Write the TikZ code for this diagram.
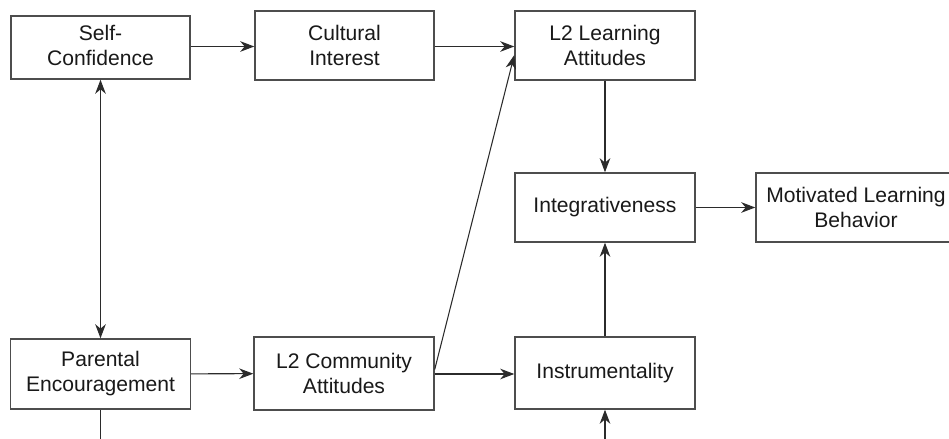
\documentclass[tikz,border=0pt]{standalone}
\usepackage{xcolor}
\usepackage{fontspec}
\setmainfont{Liberation Sans}
\usepackage{tikz}
\usetikzlibrary{arrows.meta}
\definecolor{BoxLine}{HTML}{4d4d4d}
\definecolor{ArrLine}{HTML}{2b2b2b}
\tikzset{
  factor/.style={draw=BoxLine, line width=0.8pt, minimum width=3.6cm, minimum height=1.4cm, align=center, text=black!90, font=\fontsize{12}{14.2}\selectfont},
  link/.style={draw=ArrLine, line width=0.6pt, -{Stealth[length=8pt, width=6pt, inset=2.5pt]}},
  linkboth/.style={link, {Stealth[length=8pt, width=6pt, inset=2.5pt]}-{Stealth[length=8pt, width=6pt, inset=2.5pt]}},
  stub/.style={draw=ArrLine, line width=0.6pt}
}

\begin{document}
\begin{tikzpicture}%
\clip (0,0) rectangle (18.98,-8.78);%
\node[factor, minimum width=3.58cm, minimum height=1.26cm] (selfconf) at (2.01,-0.95) {Self-\\Confidence\vphantom{g}};%
\node[factor, minimum width=3.58cm, minimum height=1.38cm] (cultint) at (6.89,-0.91) {Cultural\\Interest};%
\node[factor, minimum height=1.38cm] (learnatt) at (12.10,-0.91) {L2 Learning\\Attitudes};%
\node[factor, minimum height=1.38cm] (integ) at (12.10,-4.15) {Integrativeness};%
\node[factor, minimum width=4.0cm, minimum height=1.38cm] (motiv) at (17.12,-4.15) {Motivated Learning\\Behavior};%
\node[factor, minimum height=1.40cm] (parent) at (2.01,-7.48) {Parental\\Encouragement};%
\node[factor, minimum height=1.46cm] (commatt) at (6.88,-7.47) {L2 Community\\Attitudes};%
\node[factor, minimum height=1.44cm] (instr) at (12.10,-7.46) {Instrumentality};%
\coordinate (parentout) at (2.01,-9.2);%
\coordinate (instrin) at (12.10,-9.2);%
\draw[link] (selfconf.east |- 0,-0.93) -- (cultint.west |- 0,-0.93);%
\draw[link] (cultint.east |- 0,-0.93) -- (learnatt.west |- 0,-0.93);%
\draw[linkboth] (selfconf.south) -- (parent.north);%
\draw[link] (parent) -- (commatt);%
\draw[link] ([yshift=0.08cm]commatt.east) -- ([yshift=-0.19cm]learnatt.west);%
\draw[link] (commatt.east |- 0,-7.48) -- (instr.west |- 0,-7.48);%
\draw[link] (learnatt) -- (integ);%
\draw[link] (instr) -- (integ);%
\draw[link] (integ) -- (motiv);%
\draw[stub] (parent) -- (parentout);%
\draw[link] (instrin) -- (instr);%
\end{tikzpicture}
\end{document}
